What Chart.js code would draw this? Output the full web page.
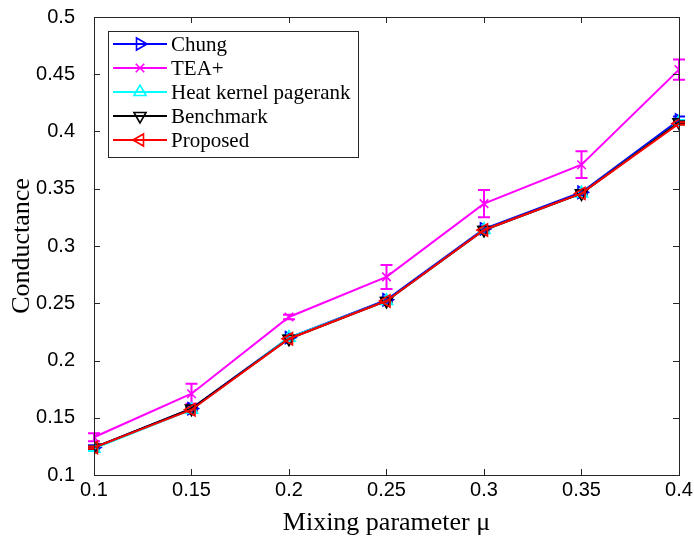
<!DOCTYPE html>
<html>
<head>
<meta charset="utf-8">
<script src="https://cdn.jsdelivr.net/npm/chart.js@4/dist/chart.umd.min.js"></script>
<style>
html,body{margin:0;padding:0;background:#fff;}
#wrap{width:694px;height:536px;position:relative;}
</style>
</head>
<body>
<div id="wrap"><canvas id="c" width="694" height="536"></canvas></div>
<script>
// ---- data ----
const mu = [0.1, 0.15, 0.2, 0.25, 0.3, 0.35, 0.4];
const xTickLabels = ["0.1", "0.15", "0.2", "0.25", "0.3", "0.35", "0.4"];
const yTickLabels = ["0.1", "0.15", "0.2", "0.25", "0.3", "0.35", "0.4", "0.45", "0.5"];
const seriesNames = ["Chung", "TEA+", "Heat kernel pagerank", "Benchmark", "Proposed"];
const chung     = [0.124, 0.158, 0.220, 0.253, 0.315, 0.347, 0.410];
const teaPlus   = [0.133, 0.171, 0.238, 0.273, 0.337, 0.371, 0.454];
const heatKernel= [0.123, 0.157, 0.220, 0.252, 0.314, 0.346, 0.408];
const benchmark = [0.124, 0.158, 0.219, 0.252, 0.314, 0.346, 0.408];
const proposed  = [0.124, 0.157, 0.219, 0.252, 0.314, 0.346, 0.407];
const chungErr     = [0.002, 0.002, 0.002, 0.002, 0.002, 0.002, 0.003];
const teaPlusErr   = [0.0035, 0.0087, 0.002, 0.0105, 0.0118, 0.0117, 0.0089];
const heatKernelErr= [0.002, 0.002, 0.002, 0.002, 0.002, 0.002, 0.002];
const benchmarkErr = [0.001, 0.001, 0.001, 0.001, 0.001, 0.001, 0.001];
const proposedErr  = [0.001, 0.001, 0.001, 0.001, 0.001, 0.001, 0.001];

// ---- styles ----
const colors = ["#0000ff", "#ff00ff", "#00ffff", "#000000", "#ff0000"];
const styles = ["triangle", "crossRot", "triangle", "triangle", "triangle"];
const rotations = [90, 0, 0, 180, 270];
const values = [chung, teaPlus, heatKernel, benchmark, proposed];
const errs = [chungErr, teaPlusErr, heatKernelErr, benchmarkErr, proposedErr];
const orders = [5, 4, 3, 2, 1];
const axisColor = "#262626";
const serif = "'Liberation Serif', 'Times New Roman', serif";

const datasets = seriesNames.map((name, i) => ({
  label: name,
  data: mu.map((m, k) => ({x: m, y: values[i][k]})),
  errors: errs[i],
  borderColor: colors[i],
  backgroundColor: colors[i],
  borderWidth: 2,
  pointStyle: styles[i],
  pointRotation: rotations[i],
  pointRadius: i === 1 ? 6 : 7,
  pointBorderWidth: 1.6,
  pointBackgroundColor: "rgba(0,0,0,0)",
  pointBorderColor: colors[i],
  fill: false,
  tension: 0,
  order: orders[i]
}));

function drawMarker(ctx, style, rot, x, y, r) {
  ctx.save();
  ctx.translate(x, y);
  ctx.rotate(rot * Math.PI / 180);
  ctx.beginPath();
  if (style === "triangle") {
    for (let k = 0; k < 3; k++) {
      const a = k * 2 * Math.PI / 3;
      const px = Math.sin(a) * r, py = -Math.cos(a) * r;
      if (k === 0) ctx.moveTo(px, py); else ctx.lineTo(px, py);
    }
    ctx.closePath();
  } else {
    const d = r * Math.SQRT1_2;
    ctx.moveTo(-d, -d); ctx.lineTo(d, d);
    ctx.moveTo(-d, d); ctx.lineTo(d, -d);
  }
  ctx.stroke();
  ctx.restore();
}

const framePlugin = {
  id: "frame",
  beforeDatasetsDraw(chart) {
    const ctx = chart.ctx, xs = chart.scales.x, ys = chart.scales.y;
    ctx.save();
    chart.data.datasets.forEach((ds) => {
      ctx.strokeStyle = ds.borderColor;
      ctx.lineWidth = 2;
      ds.data.forEach((p, k) => {
        const e = ds.errors[k];
        const px = xs.getPixelForValue(p.x);
        const t = ys.getPixelForValue(p.y + e), b = ys.getPixelForValue(p.y - e);
        ctx.beginPath();
        ctx.moveTo(px, t); ctx.lineTo(px, b);
        ctx.moveTo(px - 6, t); ctx.lineTo(px + 6, t);
        ctx.moveTo(px - 6, b); ctx.lineTo(px + 6, b);
        ctx.stroke();
      });
    });
    ctx.restore();
  },
  afterDatasetsDraw(chart) {
    const ctx = chart.ctx, a = chart.chartArea, xs = chart.scales.x, ys = chart.scales.y;
    ctx.save();
    ctx.strokeStyle = axisColor;
    ctx.lineWidth = 1;
    ctx.strokeRect(Math.round(a.left) + 0.5, Math.round(a.top) + 0.5,
                   Math.round(a.right - a.left), Math.round(a.bottom - a.top));
    ctx.beginPath();
    const tl = 6;
    xs.ticks.forEach(t => {
      const px = Math.round(xs.getPixelForValue(t.value)) + 0.5;
      ctx.moveTo(px, a.bottom); ctx.lineTo(px, a.bottom - tl);
      ctx.moveTo(px, a.top); ctx.lineTo(px, a.top + tl);
    });
    ys.ticks.forEach(t => {
      const py = Math.round(ys.getPixelForValue(t.value)) + 0.5;
      ctx.moveTo(a.left, py); ctx.lineTo(a.left + tl, py);
      ctx.moveTo(a.right, py); ctx.lineTo(a.right - tl, py);
    });
    ctx.stroke();

    // legend
    const lx = 108, ly = 31, lw = 250, lh = 126;
    ctx.fillStyle = "#fff";
    ctx.fillRect(lx, ly, lw, lh);
    ctx.strokeStyle = "#262626";
    ctx.lineWidth = 1;
    ctx.strokeRect(lx + 0.5, ly + 0.5, lw, lh);
    ctx.font = "21px " + serif;
    ctx.textBaseline = "middle";
    ctx.textAlign = "left";
    chart.data.datasets.forEach((ds, i) => {
      const y = 44 + 24 * i;
      ctx.strokeStyle = ds.borderColor;
      ctx.lineWidth = 2;
      ctx.beginPath();
      ctx.moveTo(113, y); ctx.lineTo(167, y);
      ctx.stroke();
      ctx.lineWidth = 1.6;
      drawMarker(ctx, ds.pointStyle, ds.pointRotation, 140, y, ds.pointRadius);
      ctx.fillStyle = "#000";
      ctx.fillText(ds.label, 171, y + 1);
    });
    ctx.restore();
  }
};

new Chart(document.getElementById("c"), {
  type: "line",
  data: {datasets},
  options: {
    responsive: false,
    animation: false,
    devicePixelRatio: 1,
    layout: {padding: {left: 0, right: 15, top: 17, bottom: 0}},
    plugins: {legend: {display: false}, tooltip: {enabled: false}},
    scales: {
      x: {
        type: "linear",
        min: 0.1, max: 0.4,
        afterBuildTicks: s => { s.ticks = xTickLabels.map(v => ({value: parseFloat(v)})); },
        afterFit: s => { s.height = 61; },
        grid: {display: false},
        border: {display: false},
        ticks: {
          color: "#000", font: {family: "'Liberation Sans', Arial, sans-serif", size: 20},
          padding: -5, maxRotation: 0,
          callback: (v) => xTickLabels[mu.findIndex(m => Math.abs(m - v) < 1e-9)] ?? ""
        },
        title: {display: true, text: "Mixing parameter μ", color: "#000",
                font: {family: serif, size: 26}, padding: {top: 0, bottom: -3}}
      },
      y: {
        type: "linear",
        min: 0.1, max: 0.5,
        afterBuildTicks: s => { s.ticks = yTickLabels.map(v => ({value: parseFloat(v)})); },
        afterFit: s => { s.width = 94; },
        grid: {display: false},
        border: {display: false},
        ticks: {
          color: "#000", font: {family: "'Liberation Sans', Arial, sans-serif", size: 20, lineHeight: 0.4},
          padding: 11,
          callback: (v) => yTickLabels.find(l => Math.abs(parseFloat(l) - v) < 1e-9) ?? ""
        },
        title: {display: true, text: "Conductance", color: "#000",
                font: {family: serif, size: 26}, padding: {top: 7, bottom: 0}}
      }
    }
  },
  plugins: [framePlugin]
});
</script>
</body>
</html>
